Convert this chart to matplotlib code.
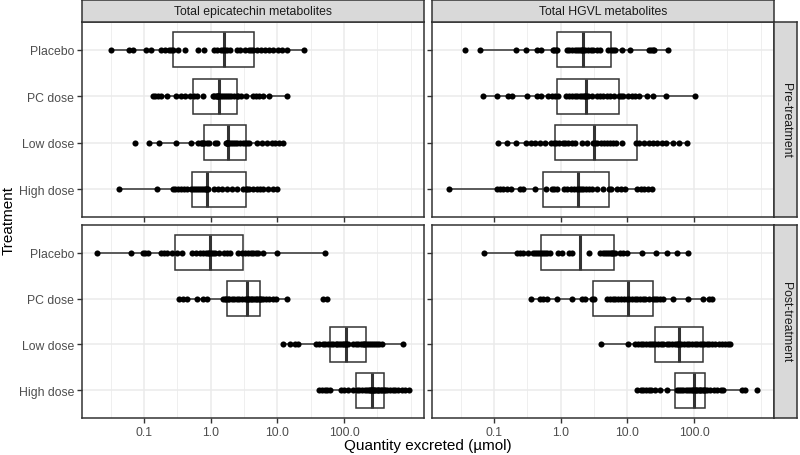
import numpy as np
import matplotlib
matplotlib.use('Agg')
import matplotlib.pyplot as plt
from matplotlib.ticker import FixedLocator, NullFormatter

plt.rcParams['font.family'] = ['Liberation Sans', 'DejaVu Sans']

treatments = ['Placebo', 'PC dose', 'Low dose', 'High dose']
metabolites = ['Total epicatechin metabolites', 'Total HGVL metabolites']
periods = ['Pre-treatment', 'Post-treatment']

# quantities excreted (umol), one list per panel row
pre_epi_placebo = [0.032, 0.060, 0.069, 0.107, 0.127, 0.180, 0.209, 0.240, 0.257, 0.275, 0.327, 0.412,
                   0.653, 0.794, 1.12, 1.26, 1.41, 1.55, 1.62, 1.78, 1.95, 2.45, 2.75, 3.31, 3.72, 4.07,
                   4.37, 4.90, 5.62, 6.53, 7.50, 8.71, 10.1, 11.9, 13.8, 25.1]
pre_epi_pc = [0.135, 0.146, 0.164, 0.178, 0.219, 0.302, 0.355, 0.412, 0.490, 0.562, 0.631, 0.759, 1.07,
              1.14, 1.19, 1.23, 1.27, 1.30, 1.33, 1.41, 1.51, 1.62, 1.74, 1.86, 2.04, 2.24, 2.45, 2.60,
              2.82, 3.39, 4.27, 4.79, 5.37, 6.17, 7.59, 13.8]
pre_epi_low = [0.0733, 0.120, 0.170, 0.302, 0.501, 0.653, 0.708, 0.750, 0.767, 0.804, 0.871, 0.955,
               1.16, 1.23, 1.70, 1.74, 1.76, 1.78, 1.82, 1.91, 2.04, 2.19, 2.34, 2.51, 2.75, 3.02, 3.31,
               3.55, 3.80, 4.90, 5.82, 6.92, 8.22, 9.23, 10.6, 12.3]
pre_epi_high = [0.0427, 0.158, 0.269, 0.295, 0.324, 0.355, 0.398, 0.447, 0.501, 0.537, 0.575, 0.617,
                0.661, 0.708, 0.759, 0.813, 0.851, 0.881, 0.902, 1.12, 1.30, 1.46, 1.74, 2.07, 2.45,
                3.09, 3.39, 3.55, 3.80, 4.27, 4.90, 5.50, 6.17, 7.33, 8.51, 10.0]

pre_hgvl_placebo = [0.0367, 0.0617, 0.214, 0.299, 0.437, 0.501, 0.759, 0.804, 0.841, 0.891, 1.23, 1.35,
                    1.48, 1.62, 1.74, 1.86, 2.00, 2.11, 2.16, 2.34, 2.57, 2.82, 3.09, 3.47, 3.89, 5.19,
                    5.62, 6.03, 6.46, 8.22, 11.0, 20.9, 22.4, 24.0, 25.1, 41.2]
pre_hgvl_pc = [0.0692, 0.112, 0.160, 0.184, 0.309, 0.437, 0.501, 0.653, 0.741, 0.832, 0.902, 1.20, 1.32,
               1.46, 1.62, 1.78, 1.95, 2.09, 2.24, 2.34, 2.40, 2.60, 2.92, 3.47, 3.89, 4.37, 4.90, 5.50,
               6.31, 7.41, 7.94, 8.71, 10.4, 11.6, 13.0, 15.1, 19.5, 24.5, 38.0, 104]
pre_hgvl_low = [0.116, 0.155, 0.214, 0.302, 0.355, 0.412, 0.490, 0.582, 0.708, 0.785, 0.851, 0.955, 1.07,
                1.17, 1.30, 1.46, 1.64, 2.07, 2.45, 3.09, 3.31, 3.55, 3.98, 4.47, 4.90, 5.50, 6.03, 6.76,
                8.22, 13.5, 14.8, 17.8, 21.4, 24.5, 27.5, 32.7, 38.0, 49.0, 60.3, 77.6]
pre_hgvl_high = [0.0214, 0.112, 0.123, 0.135, 0.155, 0.178, 0.245, 0.275, 0.412, 0.603, 0.733, 0.794,
                 0.871, 1.12, 1.26, 1.41, 1.58, 1.78, 1.91, 2.04, 2.19, 2.40, 2.63, 2.95, 3.47, 4.37,
                 5.25, 5.62, 6.92, 7.94, 9.33, 14.1, 15.8, 17.8, 20.4, 23.2]

post_epi_placebo = [0.0200, 0.0631, 0.0955, 0.105, 0.116, 0.178, 0.200, 0.224, 0.260, 0.309, 0.367, 0.519,
                    0.603, 0.692, 0.776, 0.851, 0.912, 0.955, 1.00, 1.07, 1.17, 1.32, 1.58, 1.74, 1.95,
                    2.60, 2.92, 3.27, 3.67, 3.98, 4.37, 4.79, 5.19, 6.17, 10.0, 51.9]
post_epi_pc = [0.33, 0.389, 0.447, 0.631, 0.776, 0.871, 1.51, 1.62, 1.70, 1.80, 1.91, 2.07, 2.24, 2.45,
               2.69, 2.95, 3.24, 3.47, 3.63, 3.80, 3.98, 4.22, 4.47, 4.73, 5.01, 5.25, 5.50, 5.75, 6.17,
               6.76, 7.41, 8.51, 9.55, 13.8, 49.0, 56.2]
post_epi_low = [12.0, 15.5, 18.4, 20.7, 38.0, 42.7, 47.9, 52.5, 57.5, 63.1, 69.2, 75.9, 79.4, 83.2, 89.1,
                95.5, 101, 106, 108, 116, 138, 151, 162, 178, 191, 200, 209, 219, 234, 251, 269, 292,
                316, 339, 372, 759]
post_epi_high = [42.7, 46.8, 51.3, 56.2, 61.7, 89.1, 100, 116, 135, 155, 170, 186, 204, 219, 234, 245,
                 254, 263, 269, 282, 295, 309, 324, 339, 355, 372, 398, 417, 447, 490, 537, 589, 646,
                 733, 832, 955]

post_hgvl_placebo = [0.0716, 0.224, 0.245, 0.269, 0.327, 0.380, 0.412, 0.447, 0.479, 0.513, 0.550, 0.589,
                     0.631, 0.692, 0.923, 1.04, 1.35, 1.46, 2.63, 3.89, 4.27, 4.57, 4.90, 5.25, 5.62,
                     5.96, 6.17, 6.53, 7.76, 8.71, 10.0, 16.6, 26.9, 38.9, 55.0, 82.2]
post_hgvl_pc = [0.355, 0.490, 0.550, 0.617, 0.891, 1.46, 2.07, 2.32, 2.92, 3.16, 4.90, 5.50, 6.03, 6.61,
                7.24, 7.94, 8.91, 10.0, 10.7, 11.7, 12.9, 14.1, 15.5, 17.0, 18.6, 20.9, 24.0, 25.7, 28.2,
                30.9, 34.7, 47.9, 82.2, 138, 170, 184]
post_hgvl_low = [4.03, 10.1, 13.0, 14.5, 15.8, 17.4, 19.1, 20.9, 22.4, 24.0, 26.3, 28.8, 31.6, 34.7, 38.9,
                 42.7, 46.8, 51.3, 55.0, 57.5, 60.3, 64.6, 70.8, 77.6, 85.1, 93.3, 102, 112, 123, 132,
                 141, 155, 170, 186, 209, 234, 263, 295, 324, 347]
post_hgvl_high = [14.1, 15.8, 17.4, 19.1, 20.9, 22.9, 26.0, 30.9, 38.9, 56.2, 60.3, 64.6, 69.2, 75.9,
                  81.3, 87.1, 93.3, 97.7, 102, 107, 112, 117, 123, 129, 135, 141, 145, 155, 174, 200,
                  224, 251, 275, 519, 582, 871]

panels = {
    (0, 0): [pre_epi_placebo, pre_epi_pc, pre_epi_low, pre_epi_high],
    (0, 1): [pre_hgvl_placebo, pre_hgvl_pc, pre_hgvl_low, pre_hgvl_high],
    (1, 0): [post_epi_placebo, post_epi_pc, post_epi_low, post_epi_high],
    (1, 1): [post_hgvl_placebo, post_hgvl_pc, post_hgvl_low, post_hgvl_high],
}

x_breaks = [0.1, 1, 10, 100]
x_labels = ['0.1', '1.0', '10.0', '100.0']
x_minor = [10 ** -1.5, 10 ** -0.5, 10 ** 0.5, 10 ** 1.5, 10 ** 2.5, 1000]

W, H = 800, 456
DARK = '#333333'


def rect(x0, y0, x1, y1):
    """ Pixel box (top-left origin) to figure fraction. """
    return [x0 / W, 1 - y1 / H, (x1 - x0) / W, (y1 - y0) / H]


def log_box_stats(vals):
    """ Box statistics computed on the log scale, as ggplot does. """
    lv = np.log10(vals)
    q1, med, q3 = np.percentile(lv, [25, 50, 75])
    iqr = q3 - q1
    lo = lv[lv >= q1 - 1.5 * iqr].min()
    hi = lv[lv <= q3 + 1.5 * iqr].max()
    return dict(med=10 ** med, q1=10 ** q1, q3=10 ** q3,
                whislo=10 ** lo, whishi=10 ** hi, fliers=[])


fig = plt.figure(figsize=(W / 100, H / 100), dpi=100)

cols = [(82, 424), (432, 774)]
rows = [(23, 218), (226, 419)]
positions = np.arange(1, len(treatments) + 1)

for (r, c), groups in panels.items():
    ax = fig.add_axes(rect(cols[c][0], rows[r][0], cols[c][1], rows[r][1]))
    ax.set_xscale('log')
    ax.set_xlim(10 ** -1.93, 10 ** 3.2)
    ax.set_ylim(4.6, 0.4)

    stats = [log_box_stats(g) for g in groups]
    ax.bxp(stats, positions=positions, widths=0.75, vert=False, patch_artist=True,
           showcaps=False, showfliers=False,
           boxprops=dict(facecolor='white', edgecolor=DARK, linewidth=1.1),
           whiskerprops=dict(color=DARK, linewidth=1.1),
           medianprops=dict(color=DARK, linewidth=2.2))
    for pos, g in zip(positions, groups):
        ax.plot(g, [pos] * len(g), 'o', color='black', ms=4.4, mew=0, zorder=4)

    ax.xaxis.set_major_locator(FixedLocator(x_breaks))
    ax.xaxis.set_minor_locator(FixedLocator(x_minor))
    ax.xaxis.set_minor_formatter(NullFormatter())
    ax.set_yticks(positions)
    ax.grid(True, which='major', color='#EBEBEB', linewidth=1.1, zorder=0)
    ax.grid(True, which='minor', axis='x', color='#EBEBEB', linewidth=0.55, zorder=0)
    ax.set_axisbelow(True)
    ax.tick_params(which='major', length=3.5, width=1.0, color=DARK,
                   labelcolor='#4D4D4D', labelsize=8.8, pad=2.2)
    ax.tick_params(which='minor', length=0)
    if r == 1:
        ax.set_xticklabels(x_labels)
    else:
        ax.set_xticklabels([])
    if c == 0:
        ax.set_yticklabels(treatments)
    else:
        ax.set_yticklabels([])
    for sp in ax.spines.values():
        sp.set_color(DARK)
        sp.set_linewidth(1.1)

# column strips
for c, name in enumerate(metabolites):
    sax = fig.add_axes(rect(cols[c][0], 1, cols[c][1], rows[0][0]))
    sax.set_facecolor('#D9D9D9')
    sax.set_xticks([])
    sax.set_yticks([])
    for sp in sax.spines.values():
        sp.set_color(DARK)
        sp.set_linewidth(1.1)
    sax.text(0.5, 0.5, name, ha='center', va='center', fontsize=8.8,
             color='#1A1A1A', transform=sax.transAxes)

# row strips
for r, name in enumerate(periods):
    sax = fig.add_axes(rect(cols[1][1], rows[r][0], 797, rows[r][1]))
    sax.set_facecolor('#D9D9D9')
    sax.set_xticks([])
    sax.set_yticks([])
    for sp in sax.spines.values():
        sp.set_color(DARK)
        sp.set_linewidth(1.1)
    sax.text(0.5, 0.5, name, ha='center', va='center', rotation=-90, fontsize=8.8,
             color='#1A1A1A', transform=sax.transAxes)

fig.text(428 / W, 1 - 446 / H, 'Quantity excreted (µmol)', ha='center', va='center', fontsize=11)
fig.text(9 / W, 1 - 221 / H, 'Treatment', ha='center', va='center', rotation=90, fontsize=11)

fig.savefig('out.png', dpi=100)
